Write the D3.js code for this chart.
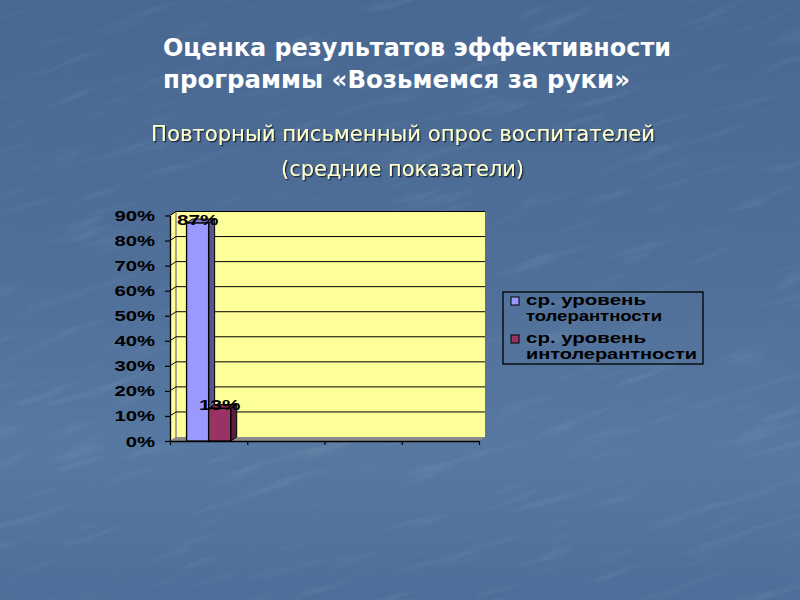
<!DOCTYPE html>
<html>
<head>
<meta charset="utf-8">
<script src="https://cdn.jsdelivr.net/npm/d3@7"></script>
<style>
  html, body { margin: 0; padding: 0; background: #4d6d97; }
  svg { display: block; }
</style>
</head>
<body>
<svg id="chart" width="800" height="600"></svg>
<script>
// ---------------- data ----------------
const titleLines = ["Оценка результатов эффективности", "программы «Возьмемся за руки»"];
const subtitleLines = ["Повторный письменный опрос воспитателей", "(средние показатели)"];
const categories = ["0", "1", "2", "3"];           // category slots (no visible labels)
const categoryLabels = ["", "", "", ""];
const seriesNames = ["ср. уровень толерантности", "ср. уровень интолерантности"];
const legendLines = [["ср. уровень", "толерантности"], ["ср. уровень", "интолерантности"]];
const tolerance = [0.87, null, null, null];
const intolerance = [0.13, null, null, null];
const yTicks = [0, 0.1, 0.2, 0.3, 0.4, 0.5, 0.6, 0.7, 0.8, 0.9];
const seriesColors = [
  { front: "#9999ff", side: "#55558f", top: "#7a7ad0" },
  { front: "#993366", side: "#5a1e3c", top: "#7a2952" }
];

// ---------------- setup ----------------
const svg = d3.select("#chart");
const defs = svg.append("defs");

const bg = defs.append("linearGradient").attr("id", "bg").attr("x1", 0).attr("y1", 0).attr("x2", 0).attr("y2", 1);
bg.append("stop").attr("offset", "0%").attr("stop-color", "#486891");
bg.append("stop").attr("offset", "45%").attr("stop-color", "#4f6f99");
bg.append("stop").attr("offset", "75%").attr("stop-color", "#5778a0");
bg.append("stop").attr("offset", "100%").attr("stop-color", "#4d6e98");

const tex = defs.append("filter").attr("id", "tex").attr("x", 0).attr("y", 0).attr("width", 1).attr("height", 1);
tex.append("feTurbulence").attr("type", "fractalNoise").attr("baseFrequency", "0.012 0.09").attr("numOctaves", 3).attr("seed", 4);
tex.append("feColorMatrix").attr("type", "matrix")
  .attr("values", "0 0 0 0 1  0 0 0 0 1  0 0 0 0 1  0 0 0 1.4 -0.8");

const shadow = defs.append("filter").attr("id", "shadow").attr("x", "-5%").attr("y", "-20%").attr("width", "110%").attr("height", "140%");
shadow.append("feDropShadow").attr("dx", 1.3).attr("dy", 1.3).attr("stdDeviation", 0.4).attr("flood-color", "#16243a").attr("flood-opacity", 0.95);

svg.append("rect").attr("width", 800).attr("height", 600).attr("fill", "url(#bg)");
svg.append("g").attr("transform", "rotate(-18 400 300)")
  .append("rect").attr("x", -200).attr("y", -200).attr("width", 1200).attr("height", 1000)
  .attr("filter", "url(#tex)").attr("opacity", 0.16);

// ---------------- titles ----------------
const titleX = [163, 163], titleY = [56, 88], titleW = [508, 467];
svg.selectAll("text.title").data(titleLines).join("text")
  .attr("class", "title")
  .attr("x", (d, i) => titleX[i]).attr("y", (d, i) => titleY[i])
  .attr("textLength", (d, i) => titleW[i]).attr("lengthAdjust", "spacingAndGlyphs")
  .attr("font-family", "'DejaVu Sans', Verdana, sans-serif").attr("font-weight", "bold")
  .attr("font-size", 24).attr("fill", "#ffffff")
  .text(d => d);

const subX = [151, 281], subY = [141, 176], subW = [504, 243];
svg.selectAll("text.sub").data(subtitleLines).join("text")
  .attr("class", "sub")
  .attr("x", (d, i) => subX[i]).attr("y", (d, i) => subY[i])
  .attr("textLength", (d, i) => subW[i]).attr("lengthAdjust", "spacingAndGlyphs")
  .attr("font-family", "'DejaVu Sans', Verdana, sans-serif")
  .attr("font-size", 21).attr("fill", "#ffffcc").attr("filter", "url(#shadow)")
  .text(d => d);

// ---------------- chart geometry ----------------
const left = 170, right = 479, bottom = 441;
const depthX = 6, depthY = 4;
const y = d3.scaleLinear().domain([0, 0.9]).range([bottom, 215.5]);
const x0 = d3.scaleBand().domain(categories).range([left, right]).paddingInner(0.4286).paddingOuter(0.2143);
const x1 = d3.scaleBand().domain([0, 1]).range([0, x0.bandwidth()]);
const xb = d3.scaleLinear().domain([0, categories.length]).range([left, right]);

const yTop = y(0.9);
const g = svg.append("g");

// side wall (left)
g.append("polygon")
  .attr("points", [[left, yTop], [left + depthX, yTop - depthY], [left + depthX, bottom - depthY], [left, bottom]].join(" "))
  .attr("fill", "#ffff99").attr("stroke", "none");
// back wall
g.append("rect")
  .attr("x", left + depthX).attr("y", yTop - depthY)
  .attr("width", right - left).attr("height", bottom - yTop)
  .attr("fill", "#ffff99");
// floor
g.append("polygon")
  .attr("points", [[left, bottom], [left + depthX, bottom - depthY], [right + depthX, bottom - depthY], [right, bottom]].join(" "))
  .attr("fill", "#8c8c8c");
// corner edge
g.append("line")
  .attr("x1", left + depthX).attr("x2", left + depthX)
  .attr("y1", yTop - depthY).attr("y2", bottom - depthY)
  .attr("stroke", "#8c8c8c").attr("stroke-width", 1.5);

// gridlines
const grid = g.append("g");
yTicks.filter(v => v > 0).forEach(v => {
  grid.append("line")
    .attr("x1", left).attr("y1", y(v)).attr("x2", left + depthX).attr("y2", y(v) - depthY)
    .attr("stroke", "#000").attr("stroke-width", 1);
  grid.append("line")
    .attr("x1", left + depthX).attr("y1", y(v) - depthY).attr("x2", right + depthX).attr("y2", y(v) - depthY)
    .attr("stroke", "#000").attr("stroke-width", 1);
});

// axes
const yAxis = g.append("g").attr("transform", `translate(${left},0)`)
  .call(d3.axisLeft(y).tickValues(yTicks).tickFormat(d3.format(".0%")).tickSize(5).tickSizeOuter(0));
yAxis.select(".domain").attr("stroke", "#000").attr("stroke-width", 1.3);
yAxis.selectAll(".tick line").attr("stroke", "#000").attr("stroke-width", 1.2);
yAxis.selectAll(".tick text")
  .attr("font-family", "'Liberation Sans', Arial, sans-serif").attr("font-weight", "bold")
  .attr("font-size", 14).attr("fill", "#000")
  .attr("x", -15 / 1.45).attr("dy", "0.36em")
  .attr("transform", "scale(1.45,1)");

const xAxis = g.append("g").attr("transform", `translate(0,${bottom})`)
  .call(d3.axisBottom(xb).tickValues(d3.range(categories.length + 1)).tickFormat((d, i) => categoryLabels[i] || "").tickSize(4).tickSizeOuter(0));
xAxis.select(".domain").attr("stroke", "#000").attr("stroke-width", 1.3);
xAxis.selectAll(".tick line").attr("stroke", "#000").attr("stroke-width", 1.2);

// ---------------- bars ----------------
const seriesData = [tolerance, intolerance];
const bars = g.append("g");
seriesData.forEach((vals, s) => {
  categories.forEach((c, ci) => {
    const v = vals[ci];
    if (v == null) return;
    const xL = x0(c) + x1(s), xR = xL + x1.bandwidth();
    const yT = y(v), yB = y(0);
    const col = seriesColors[s];
    const bg2 = bars.append("g");
    bg2.append("polygon")
      .attr("points", [[xR, yT], [xR + depthX, yT - depthY], [xR + depthX, yB - depthY], [xR, yB]].join(" "))
      .attr("fill", col.side).attr("stroke", "#000").attr("stroke-width", 1).attr("stroke-linejoin", "round");
    bg2.append("polygon")
      .attr("points", [[xL, yT], [xL + depthX, yT - depthY], [xR + depthX, yT - depthY], [xR, yT]].join(" "))
      .attr("fill", col.top).attr("stroke", "#000").attr("stroke-width", 1).attr("stroke-linejoin", "round");
    bg2.append("rect")
      .attr("x", xL).attr("y", yT).attr("width", xR - xL).attr("height", yB - yT)
      .attr("fill", col.front).attr("stroke", "#000").attr("stroke-width", 1.3);
  });
});

// data labels
const labels = g.append("g");
seriesData.forEach((vals, s) => {
  categories.forEach((c, ci) => {
    const v = vals[ci];
    if (v == null) return;
    const cx = x0(c) + x1(s) + x1.bandwidth() / 2;
    labels.append("text")
      .attr("transform", `translate(${cx},${y(v) + 1.5}) scale(1.38,1)`)
      .attr("text-anchor", "middle")
      .attr("font-family", "'Liberation Sans', Arial, sans-serif").attr("font-weight", "bold")
      .attr("font-size", 15).attr("fill", "#000")
      .text(d3.format(".0%")(v));
  });
});

// ---------------- legend ----------------
const legend = svg.append("g").attr("transform", "translate(503,292)");
legend.append("rect").attr("x", 0).attr("y", 0).attr("width", 200).attr("height", 72)
  .attr("fill", "none").attr("stroke", "#000").attr("stroke-width", 1.3);
const lineW = { "ср. уровень": 120, "толерантности": 136, "интолерантности": 171 };
legendLines.forEach((lines, s) => {
  const top = s * 38;
  legend.append("rect").attr("x", 8).attr("y", top + 5).attr("width", 8).attr("height", 8)
    .attr("fill", seriesColors[s].front).attr("stroke", "#000").attr("stroke-width", 1);
  lines.forEach((t, li) => {
    legend.append("text")
      .attr("x", 23).attr("y", top + 13 + li * 15.5)
      .attr("textLength", lineW[t]).attr("lengthAdjust", "spacingAndGlyphs")
      .attr("font-family", "'Liberation Sans', Arial, sans-serif").attr("font-weight", "bold")
      .attr("font-size", 14).attr("fill", "#000")
      .text(t);
  });
});
</script>
</body>
</html>
